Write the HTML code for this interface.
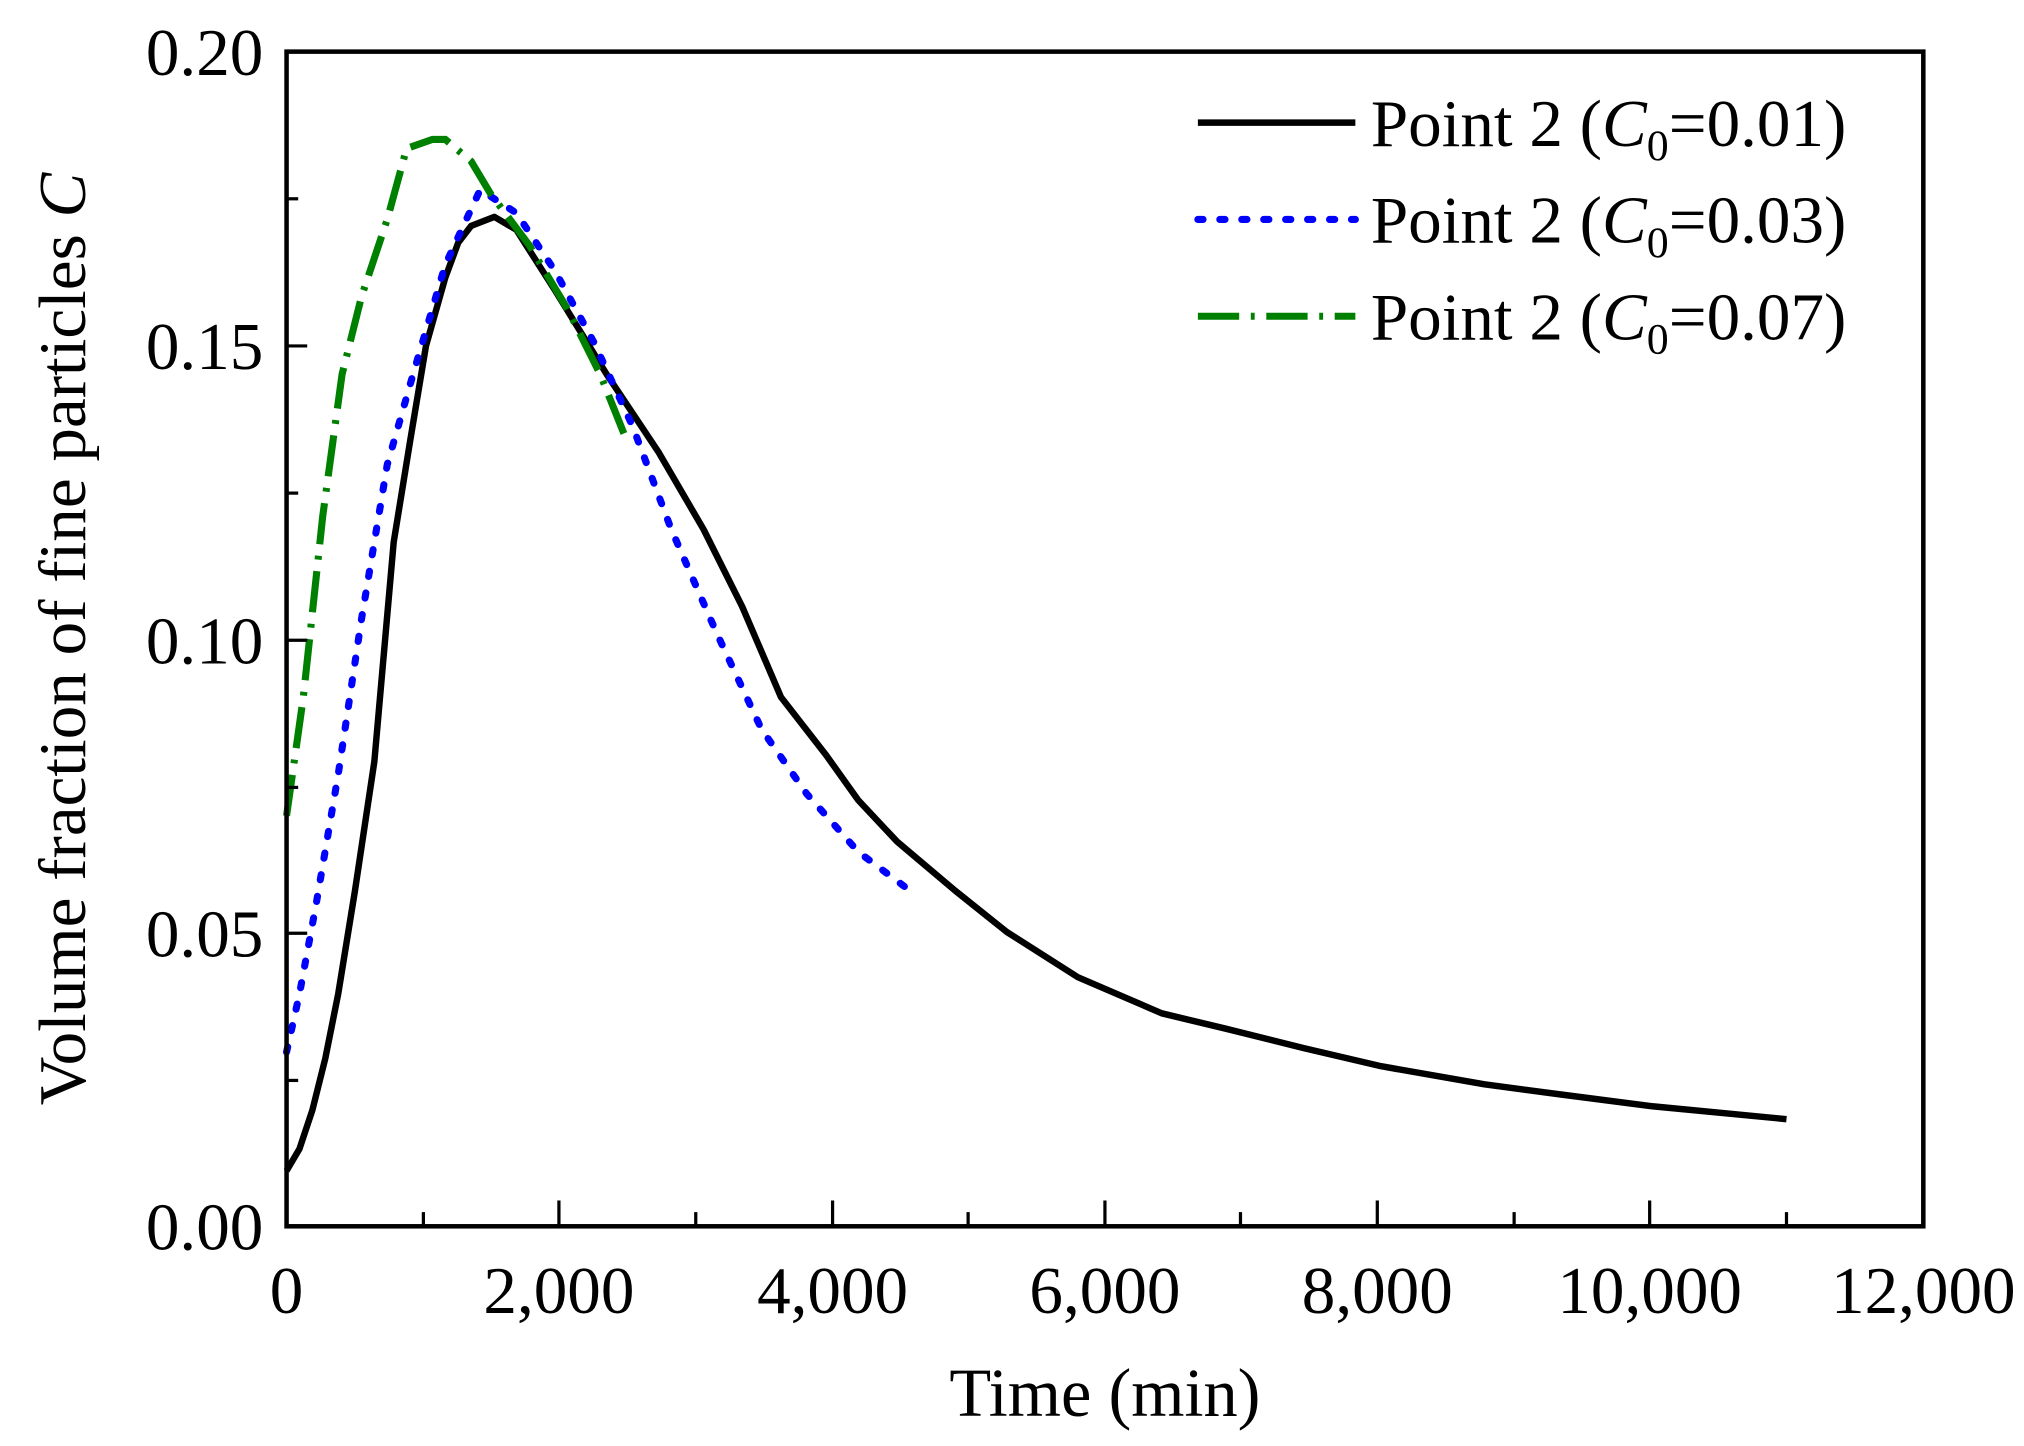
<!DOCTYPE html>
<html><head><meta charset="utf-8"><style>html,body{margin:0;padding:0;background:#fff}svg{display:block}</style></head>
<body>
<svg width="2024" height="1446" viewBox="0 0 1568 1120.2" preserveAspectRatio="none" xmlns="http://www.w3.org/2000/svg" font-family="'Liberation Serif', serif">
<rect width="1568" height="1121" fill="#fff"/>
<polyline fill="none" stroke="#000" stroke-width="5" stroke-linejoin="round" points="222,907 232,890 242,860 252,820 262,770 275,690 290,590 305,420 318,340 330,268 345,215 355,188 365,175 383,168 400,178 430,225 470,290 510,350 545,410 575,470 605,540 640,585 665,620 695,652 740,690 780,722 835,757 900,785 950,797 1010,812 1070,826 1150,840 1210,848 1280,857 1384,867"/>
<polyline fill="none" stroke="#0000ff" stroke-width="5.5" stroke-dasharray="4,13" stroke-linecap="round" points="222,815 232,770 245,700 262,600 280,480 300,360 320,290 345,205 372,147 400,165 430,210 460,265 490,330 520,410 555,490 590,565 625,615 665,660 705,690"/>
<polyline fill="none" stroke="#008000" stroke-width="5.5" stroke-dasharray="32,9,3,9" points="222,632 235,540 250,400 265,290 280,230 300,170 315,115 335,108 345,108 365,125 380,150 410,190 440,240 465,290 485,340"/>
<rect x="222" y="40" width="1268" height="910" fill="none" stroke="#000" stroke-width="3.5"/>
<g stroke="#000" stroke-width="2.5">
<line x1="222" y1="268" x2="238" y2="268"/><line x1="222" y1="496" x2="238" y2="496"/><line x1="222" y1="723" x2="238" y2="723"/>
<line x1="222" y1="154" x2="231" y2="154"/><line x1="222" y1="382" x2="231" y2="382"/><line x1="222" y1="610" x2="231" y2="610"/><line x1="222" y1="837" x2="231" y2="837"/>
<line x1="433" y1="950" x2="433" y2="930"/><line x1="645" y1="950" x2="645" y2="930"/><line x1="856" y1="950" x2="856" y2="930"/><line x1="1067" y1="950" x2="1067" y2="930"/><line x1="1278" y1="950" x2="1278" y2="930"/>
<line x1="328" y1="950" x2="328" y2="939"/><line x1="539" y1="950" x2="539" y2="939"/><line x1="750" y1="950" x2="750" y2="939"/><line x1="961" y1="950" x2="961" y2="939"/><line x1="1173" y1="950" x2="1173" y2="939"/><line x1="1384" y1="950" x2="1384" y2="939"/>
</g>
<g font-size="52" text-anchor="end">
<text x="204" y="58">0.20</text><text x="204" y="286">0.15</text><text x="204" y="514">0.10</text><text x="204" y="741">0.05</text><text x="204" y="968">0.00</text>
</g>
<g font-size="52" text-anchor="middle">
<text x="222" y="1017">0</text><text x="433" y="1017">2,000</text><text x="645" y="1017">4,000</text><text x="856" y="1017">6,000</text><text x="1067" y="1017">8,000</text><text x="1278" y="1017">10,000</text><text x="1490" y="1017">12,000</text>
</g>
<text x="856" y="1097" font-size="53" text-anchor="middle">Time (min)</text>
<text transform="translate(66,495) rotate(-90)" font-size="52" text-anchor="middle">Volume fraction of fine particles <tspan font-style="italic">C</tspan></text>
<line x1="928" y1="95" x2="1050" y2="95" stroke="#000" stroke-width="5"/>
<line x1="928" y1="170" x2="1050" y2="170" stroke="#0000ff" stroke-width="5.5" stroke-dasharray="4,13" stroke-linecap="round"/>
<line x1="928" y1="245" x2="1050" y2="245" stroke="#008000" stroke-width="5.5" stroke-dasharray="32,9,3,9"/>
<g font-size="52">
<text x="1062" y="113">Point 2 (<tspan font-style="italic">C</tspan><tspan font-size="34" dy="11">0</tspan><tspan dy="-11">=0.01)</tspan></text>
<text x="1062" y="188">Point 2 (<tspan font-style="italic">C</tspan><tspan font-size="34" dy="11">0</tspan><tspan dy="-11">=0.03)</tspan></text>
<text x="1062" y="263">Point 2 (<tspan font-style="italic">C</tspan><tspan font-size="34" dy="11">0</tspan><tspan dy="-11">=0.07)</tspan></text>
</g>
</svg>
</body></html>
